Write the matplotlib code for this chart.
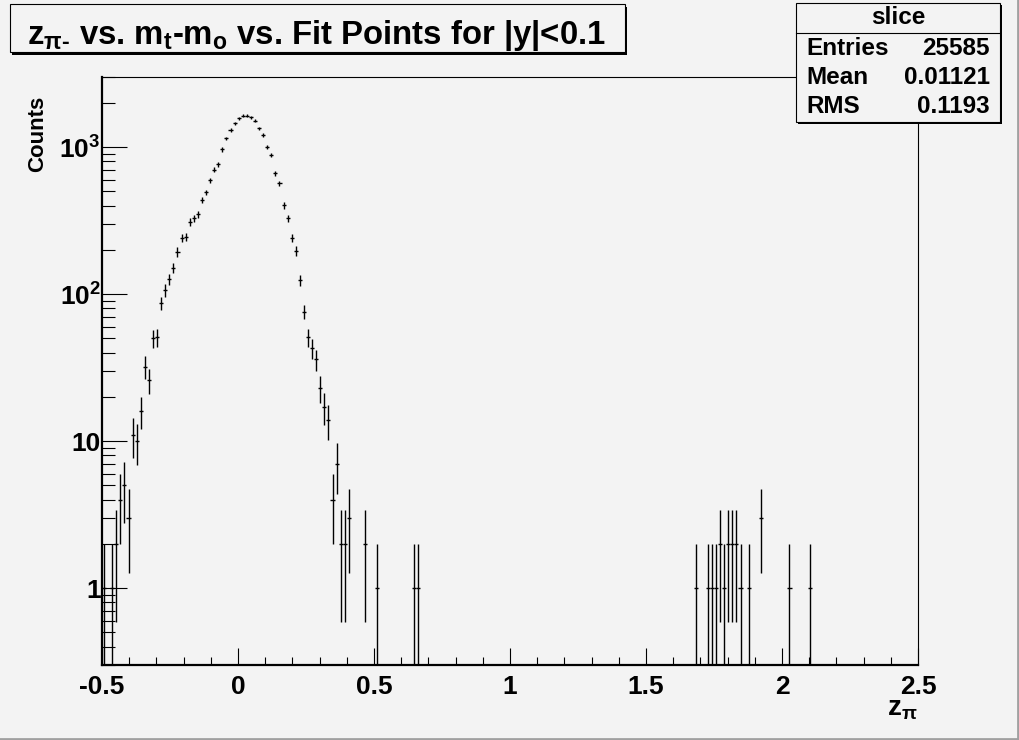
import numpy as np
import matplotlib
matplotlib.use('Agg')
import matplotlib.pyplot as plt
from matplotlib.patches import Rectangle
from matplotlib.lines import Line2D
from matplotlib.ticker import FixedLocator, LogLocator, MultipleLocator, NullFormatter

plt.rcParams['font.family'] = ['Liberation Sans', 'DejaVu Sans']
plt.rcParams['font.weight'] = 'bold'
plt.rcParams['mathtext.fontset'] = 'custom'
plt.rcParams['mathtext.rm'] = 'Liberation Sans:bold'
plt.rcParams['mathtext.it'] = 'Liberation Sans:bold'
plt.rcParams['mathtext.bf'] = 'Liberation Sans:bold'

# histogram binning
x_min, x_max, n_bins = -0.5, 2.5, 200

# non-empty bins (index) and their contents
filled_bins = [0, 2, 3, 4, 5, 6, 7, 8, 9, 10, 11, 12, 13,
               14, 15, 16, 17, 18, 19, 20, 21, 22, 23, 24, 25,
               26, 27, 28, 29, 30, 31, 32, 33, 34, 35, 36, 37,
               38, 39, 40, 41, 42, 43, 44, 45, 46, 47, 48, 49,
               50, 51, 52, 53, 54, 55, 56, 57, 58, 59, 60, 64, 67, 76, 77,
               145, 148, 149, 150, 151, 152, 153, 154, 155, 156, 158, 161, 168, 173]
counts = [1, 1, 2, 4, 5, 3, 11, 10, 16, 32, 26, 50, 51,
          87, 106, 126, 151, 194, 242, 245, 310, 327, 350, 436, 492,
          593, 701, 763, 965, 1146, 1312, 1450, 1567, 1634, 1634, 1593, 1510,
          1340, 1208, 1005, 883, 662, 566, 401, 327, 242, 197, 124, 76,
          51, 43, 36, 23, 17, 14, 4, 7, 2, 2, 3, 2, 1, 1, 1,
          1, 1, 1, 1, 2, 1, 2, 2, 2, 1, 1, 3, 1, 1]

stat_names = ['Entries', 'Mean', 'RMS']
stat_values = ['25585', '0.01121', '0.1193']

title = 'z$_{\\pi\u2010}$ vs. m$_{\\mathrm{t}}$-m$_{\\mathrm{o}}$ vs. Fit Points for |y|<0.1'
y_ticks = [1, 10, 100, 1000]
y_ticklabels = ['1', '10', r'10$^{2}$', r'10$^{3}$']
x_ticks = [-0.5, 0, 0.5, 1, 1.5, 2, 2.5]
x_ticklabels = ['-0.5', '0', '0.5', '1', '1.5', '2', '2.5']

W, H = 1020, 740
bg = '#f3f3f3'


def fx(x):
    return x / W


def fy(y):
    return 1 - y / H


fig = plt.figure(figsize=(W / 100, H / 100), dpi=100, facecolor=bg)
ax = fig.add_axes([fx(102), fy(665), fx(918) - fx(102), fy(77) - fy(665)])
ax.set_facecolor(bg)

width = (x_max - x_min) / n_bins
idx = np.array(filled_bins)
n = np.array(counts, dtype=float)
centers = x_min + (idx + 0.5) * width
ax.errorbar(centers, n, xerr=width / 2, yerr=np.sqrt(n), fmt='none',
            ecolor='black', elinewidth=1.0, capsize=0)

ax.set_yscale('log')
ax.set_xlim(x_min, x_max)
ax.set_ylim(0.3, 3000)

ax.yaxis.set_major_locator(FixedLocator(y_ticks))
ax.set_yticklabels(y_ticklabels)
ax.yaxis.set_minor_locator(LogLocator(base=10, subs=np.arange(2, 10)))
ax.yaxis.set_minor_formatter(NullFormatter())
ax.set_xticks(x_ticks)
ax.set_xticklabels(x_ticklabels)
ax.xaxis.set_minor_locator(MultipleLocator(0.1))

ax.tick_params(axis='both', which='both', direction='in', top=False, right=False,
               width=0.8, labelsize=19)
ax.tick_params(axis='y', which='major', length=18, pad=1)
ax.tick_params(axis='y', which='minor', length=9)
ax.tick_params(axis='x', which='major', length=12, pad=7)
ax.tick_params(axis='x', which='minor', length=6)
for s in ['left', 'bottom']:
    ax.spines[s].set_linewidth(1.6)
for s in ['top', 'right']:
    ax.spines[s].set_linewidth(0.8)

fig.text(fx(38), fy(96), 'Counts', rotation=90, ha='center', va='top', fontsize=16)
fig.text(fx(918), fy(716), r'z$_{\pi}$', ha='right', va='baseline', fontsize=20)

# title box
fig.patches.append(Rectangle((fx(12), fy(55)), fx(625) - fx(10), fy(4) - fy(52),
                             transform=fig.transFigure, facecolor='black', zorder=5))
fig.patches.append(Rectangle((fx(10), fy(52)), fx(625) - fx(10), fy(4) - fy(52),
                             transform=fig.transFigure, facecolor=bg, edgecolor='black',
                             linewidth=0.8, zorder=6))
fig.text(fx(27), fy(44), title, ha='left', va='baseline', fontsize=23.7, zorder=7)

# stats box
fig.patches.append(Rectangle((fx(798), fy(124)), fx(1000) - fx(796), fy(3) - fy(122),
                             transform=fig.transFigure, facecolor='black', zorder=5))
fig.patches.append(Rectangle((fx(796), fy(122)), fx(1000) - fx(796), fy(3) - fy(122),
                             transform=fig.transFigure, facecolor=bg, edgecolor='black',
                             linewidth=0.8, zorder=6))
fig.lines.append(Line2D([fx(796), fx(1000)], [fy(33), fy(33)], transform=fig.transFigure,
                        color='black', linewidth=0.8, zorder=7))
fig.text(fx(898), fy(18), 'slice', ha='center', va='center', fontsize=17.5, zorder=7)
for k, (name, val) in enumerate(zip(stat_names, stat_values)):
    yy = fy(48.5 + 29 * k)
    fig.text(fx(806), yy, name, ha='left', va='center', fontsize=17.5, zorder=7)
    fig.text(fx(990), yy, val, ha='right', va='center', fontsize=17.5, zorder=7)

# canvas bevel
fig.lines.append(Line2D([0, 1], [fy(738.5), fy(738.5)], transform=fig.transFigure,
                        color='#a0a0a0', linewidth=2))
fig.lines.append(Line2D([fx(1018.5), fx(1018.5)], [0, 1], transform=fig.transFigure,
                        color='#a0a0a0', linewidth=2))

fig.savefig('out.png', dpi=100, facecolor=bg)
